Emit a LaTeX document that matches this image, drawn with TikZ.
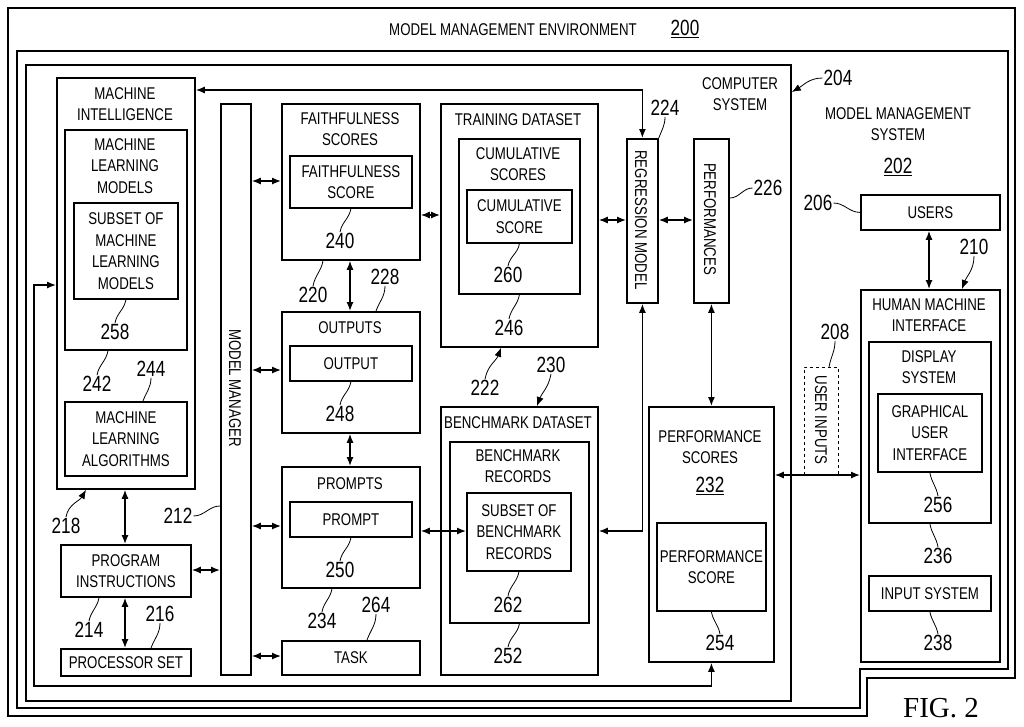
\documentclass[tikz,border=0pt]{standalone}
\usepackage{fontspec}
\setmainfont{Liberation Sans}[FakeStretch=0.78]
\newfontfamily\figfont{Liberation Serif}
\usetikzlibrary{arrows.meta}
\newcommand\bxfont{\fontsize{17}{21.5}\selectfont}
\newcommand\numfont{\fontsize{22}{24}\selectfont}
\tikzset{
  box/.style={draw, line width=1.8pt, inner sep=0pt, align=center, font=\bxfont},
  txt/.style={align=center, font=\bxfont, inner sep=0pt},
  num/.style={font=\numfont, inner sep=1pt},
  link/.style={line width=1.3pt, {Latex[length=9pt,width=7pt]}-{Latex[length=9pt,width=7pt]}},
  onelink/.style={line width=0.8pt, -{Latex[length=9pt,width=7pt]}},
  lead/.style={line width=0.8pt},
  frame/.style={line width=1.8pt},
}
% box from corner to corner (pixel grid, y down)
\newcommand\bx[7][]{\node[box,#1,anchor=north west,minimum width={(#5-#3)*1pt},minimum height={(#6-#4)*1pt}] (#2) at (#3,#4) {#7};}
\begin{document}
\begin{tikzpicture}[x=1pt,y=-1pt]
\useasboundingbox (0,0) rectangle (1024,726);
% frames
\draw[frame] (8,8) -- (1015,8) -- (1015,678) -- (867,678) -- (867,716) -- (8,716) -- cycle;
\draw[frame] (17,51) -- (1008,51) -- (1008,669) -- (860,669) -- (860,708) -- (17,708) -- cycle;
\bx{comp}{25}{64}{790}{700}{}
\node[txt] (envt) at (513,30) {MODEL MANAGEMENT ENVIRONMENT};
\node[num] (l200) at (685,29) {\underline{200}};
\node[txt] (compt) at (740,94) {COMPUTER\\SYSTEM};
\node[txt] (mmst) at (898,124) {MODEL MANAGEMENT\\SYSTEM};
\node[num] (l202) at (898,167) {\underline{202}};
\node[font=\fontsize{29}{30}\selectfont\figfont] (fig) at (941,708) {FIG. 2};

% machine intelligence
\bx{mi}{56}{77}{194}{488}{}
\node[txt] (mit) at (125,104) {MACHINE\\INTELLIGENCE};
\bx{mlm}{64}{129}{186}{349}{}
\node[txt] (mlmt) at (125,166) {MACHINE\\LEARNING\\MODELS};
\bx{subs}{73}{202}{177}{298}{SUBSET OF\\MACHINE\\LEARNING\\MODELS}
\bx{mla}{64}{401}{186}{475}{MACHINE\\LEARNING\\ALGORITHMS}
\bx{pi}{60}{544}{190}{596}{PROGRAM\\INSTRUCTIONS}
\bx{proc}{60}{648}{190}{675}{PROCESSOR SET}

% model manager
\bx{mm}{220}{103}{250}{674}{}
\node[txt, rotate=-90] (mmt) at (235,388) {MODEL MANAGER};

% middle column
\bx{fs}{281}{103}{419}{259}{}
\node[txt] (fst) at (350,129) {FAITHFULNESS\\SCORES};
\bx{fsc}{289}{155}{411}{207}{FAITHFULNESS\\SCORE}
\bx{out}{281}{311}{419}{432}{}
\node[txt] (outt) at (350,328) {OUTPUTS};
\bx{outp}{289}{345}{411}{380}{OUTPUT}
\bx{pr}{281}{466}{419}{587}{}
\node[txt] (prt) at (350,484) {PROMPTS};
\bx{prp}{289}{501}{411}{536}{PROMPT}
\bx{task}{281}{640}{419}{674}{TASK}

% datasets
\bx{td}{440}{103}{597}{346}{}
\node[txt] (tdt) at (518,120) {TRAINING DATASET};
\bx{cs}{458}{138}{579}{293}{}
\node[txt] (cst) at (518,164) {CUMULATIVE\\SCORES};
\bx{csc}{466}{189}{571}{242}{CUMULATIVE\\SCORE}
\bx{bd}{440}{406}{597}{674}{}
\node[txt] (bdt) at (518,423) {BENCHMARK DATASET};
\bx{br}{449}{441}{588}{622}{}
\node[txt] (brt) at (518,466) {BENCHMARK\\RECORDS};
\bx{bsub}{466}{492}{570}{570}{SUBSET OF\\BENCHMARK\\RECORDS}

% regression and performances
\bx{rm}{626}{138}{657}{302}{}
\node[txt, rotate=-90] (rmt) at (641,220) {REGRESSION MODEL};
\bx{perf}{693}{138}{728}{302}{}
\node[txt, rotate=-90] (perft) at (710,219) {PERFORMANCES};
\bx{ps}{648}{406}{773}{661}{}
\node[txt] (pst) at (710,447) {PERFORMANCE\\SCORES};
\node[num] (l232) at (710,486) {\underline{232}};
\bx{psc}{656}{522}{765}{610}{PERFORMANCE\\SCORE}

% model management system side
\bx{users}{860}{194}{999}{229}{USERS}
\bx{hmi}{860}{289}{999}{661}{}
\node[txt] (hmit) at (929,315) {HUMAN MACHINE\\INTERFACE};
\bx{ds}{868}{341}{990}{522}{}
\node[txt] (dst) at (929,367) {DISPLAY\\SYSTEM};
\bx{gui}{877}{393}{981}{471}{GRAPHICAL\\USER\\INTERFACE}
\bx{ins}{868}{575}{990}{610}{INPUT SYSTEM}
\coordinate (ui-a) at (804,475);
\coordinate (ui-b) at (838,475);
\draw[dashed, line width=0.8pt] (ui-a) -- (804,367) -- (838,367) -- (ui-b);
\node[txt, rotate=-90] (uit) at (821,420) {USER INPUTS};

% connectors
\draw[link] (mm.east |- 0,181) -- (fs.west |- 0,181);
\draw[link] (mm.east |- 0,370) -- (out.west |- 0,370);
\draw[link] (mm.east |- 0,526) -- (pr.west |- 0,526);
\draw[link] (mm.east |- 0,656) -- (task.west |- 0,656);
\draw[link] (pi.east |- 0,570) -- (mm.west |- 0,570);
\draw[link] (mi.south -| 125,0) -- (pi.north -| 125,0);
\draw[link] (pi.south -| 125,0) -- (proc.north -| 125,0);
\draw[link] (fs.south -| 350,0) -- (out.north -| 350,0);
\draw[link] (out.south -| 350,0) -- (pr.north -| 350,0);
\draw[link] (fs.east |- 0,215) -- (td.west |- 0,215);
\draw[link] (td.east |- 0,220) -- (rm.west |- 0,220);
\draw[link] (rm.east |- 0,220) -- (perf.west |- 0,220);
\draw[link] (pr.east |- 0,531) -- (bsub.west |- 0,531);
\draw[link] (mi.east |- 0,90) -| (rm.north);
\draw[link] (bd.east |- 0,531) -| (rm.south);
\draw[link] (perf.south) -- (ps.north);
\draw[link] (ps.east |- 0,475) -- (hmi.west |- 0,475);
\draw[link] (users.south -| 929,0) -- (hmi.north -| 929,0);
\draw[link] (ps.south) |- (34,686) -- (34,285) -- (mi.west |- 0,285);

% reference numerals
\node[num] (l204) at (838,78) {204};
\node[num] (l206) at (818,203) {206};
\node[num] (l208) at (835,332) {208};
\node[num] (l210) at (974,247) {210};
\node[num] (l212) at (178,516) {212};
\node[num] (l214) at (89,630) {214};
\node[num] (l216) at (160,614) {216};
\node[num] (l218) at (66,526) {218};
\node[num] (l220) at (313,295) {220};
\node[num] (l222) at (485,388) {222};
\node[num] (l224) at (665,108) {224};
\node[num] (l226) at (768,188) {226};
\node[num] (l228) at (385,277) {228};
\node[num] (l230) at (551,365) {230};
\node[num] (l234) at (322,621) {234};
\node[num] (l236) at (938,556) {236};
\node[num] (l238) at (938,643) {238};
\node[num] (l240) at (340,241) {240};
\node[num] (l242) at (97,384) {242};
\node[num] (l244) at (151,369) {244};
\node[num] (l246) at (509,328) {246};
\node[num] (l248) at (340,414) {248};
\node[num] (l250) at (340,570) {250};
\node[num] (l252) at (508,656) {252};
\node[num] (l254) at (720,643) {254};
\node[num] (l256) at (938,505) {256};
\node[num] (l258) at (115,332) {258};
\node[num] (l260) at (508,275) {260};
\node[num] (l262) at (508,605) {262};
\node[num] (l264) at (376,605) {264};

% leaders
\draw[onelink] (l204.west) to[out=180,in=30] (comp.east |- 0,92);
\draw[onelink] (l210.south) to[out=-90,in=70] (hmi.north -| 962,0);
\draw[onelink] (l222.north) to[out=80,in=-110] (td.south -| 501,0);
\draw[onelink] (l230.south) to[out=-100,in=70] (bd.north -| 537,0);
\draw[onelink] (l218.north) to[out=80,in=-120] (mi.south -| 86,0);
\draw[lead] (l206.east) to[out=0,in=180] (users.west);
\draw[lead] (l208.south) to[out=-90,in=80] (829,367);
\draw[lead] (l212.east) to[out=0,in=180] (mm.west |- 0,506);
\draw[lead] (l214.north) to[out=80,in=-100] (pi.south -| 99,0);
\draw[lead] (l216.south) to[out=-90,in=70] (proc.north -| 151,0);
\draw[lead] (l220.north) to[out=80,in=-100] (fs.south -| 323,0);
\draw[lead] (l224.south) to[out=-90,in=70] (rm.north east);
\draw[lead] (l226.west) to[out=180,in=0] (perf.east |- 0,198);
\draw[lead] (l228.south) to[out=-90,in=70] (out.north -| 376,0);
\draw[lead] (l234.north) to[out=80,in=-100] (pr.south -| 332,0);
\draw[lead] (l264.south) to[out=-90,in=70] (task.north -| 367,0);
\draw[lead] (l242.north) to[out=80,in=-100] (mlm.south -| 108,0);
\draw[lead] (l244.south) to[out=-90,in=70] (mla.north -| 143,0);
\draw[lead] (l258.north) to[out=80,in=-100] (subs.south);
\draw[lead] (l240.north) to[out=80,in=-100] (fsc.south);
\draw[lead] (l248.north) to[out=80,in=-100] (outp.south);
\draw[lead] (l250.north) to[out=80,in=-100] (prp.south);
\draw[lead] (l260.north) to[out=80,in=-100] (csc.south);
\draw[lead] (l246.north) to[out=80,in=-100] (cs.south);
\draw[lead] (l262.north) to[out=80,in=-100] (bsub.south);
\draw[lead] (l252.north) to[out=80,in=-100] (br.south);
\draw[lead] (l254.north) to[out=100,in=-80] (psc.south);
\draw[lead] (l256.north) to[out=100,in=-80] (gui.south);
\draw[lead] (l236.north) to[out=100,in=-80] (ds.south);
\draw[lead] (l238.north) to[out=100,in=-80] (ins.south);
\end{tikzpicture}
\end{document}
